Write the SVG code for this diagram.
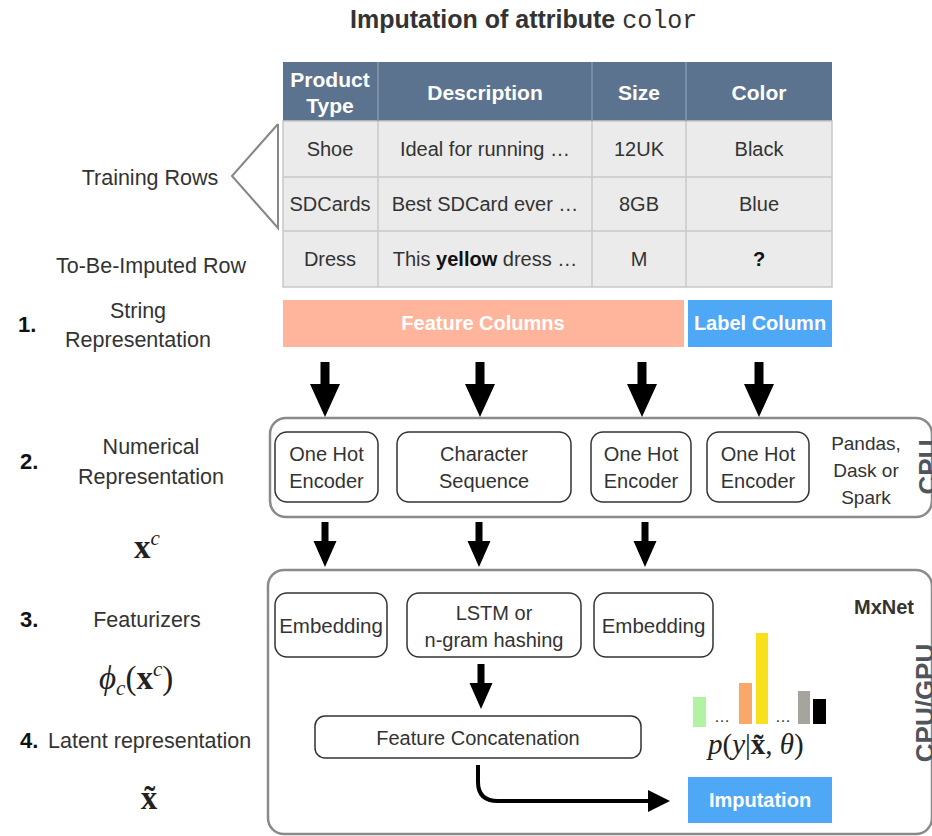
<svg xmlns="http://www.w3.org/2000/svg" width="932" height="836" viewBox="0 0 932 836">
  <style>
    .t { font-family: "Liberation Sans", Arial, sans-serif; fill: #333; }
    .b { font-weight: bold; }
    .lbl { font-size: 21.5px; }
    .cell { font-size: 20px; }
    .hdr { font-family: "Liberation Sans", Arial, sans-serif; font-size: 21px; font-weight: bold; fill: #fff; }
    .wb { font-family: "Liberation Sans", Arial, sans-serif; font-size: 20px; font-weight: bold; fill: #fff; }
    .node { fill: #fff; stroke: #333; stroke-width: 1.5; }
    .frame { fill: none; stroke: #8a8a8a; stroke-width: 2.5; }
    .math { font-family: "Liberation Serif", "DejaVu Serif", serif; fill: #222; }
    .it { font-style: italic; }
    .side { font-family: "Liberation Sans", Arial, sans-serif; font-size: 26px; font-weight: bold; fill: #50555c; }
    .grid { stroke: #c8c8c8; stroke-width: 1.5; }
  </style>
  <defs>
    <path id="bigArrow" d="M-4.5,-55 H4.5 V-33 H15 L0,0 L-15,-33 H-4.5 Z" fill="#000"/>
    <path id="smallArrow" d="M-3.5,-45 H3.5 V-26 H11.5 L0,0 L-11.5,-26 H-3.5 Z" fill="#000"/>
  </defs>
  <rect width="932" height="836" fill="#fff"/>

  <!-- title -->
  <text class="t b" x="350" y="28" font-size="25" fill="#111">Imputation of attribute <tspan font-family="'Liberation Mono', monospace" font-weight="normal">color</tspan></text>

  <!-- data table -->
  <g id="table">
    <rect x="283" y="62" width="549" height="59" fill="#5b738f"/>
    <rect x="283" y="121" width="549" height="166" fill="#ebebeb" stroke="#c8c8c8" stroke-width="1.5"/>
    <g stroke="#8396ab" stroke-width="1.5">
      <line x1="378" y1="62" x2="378" y2="121"/>
      <line x1="592" y1="62" x2="592" y2="121"/>
      <line x1="686" y1="62" x2="686" y2="121"/>
    </g>
    <g class="grid">
      <line x1="378" y1="121" x2="378" y2="287"/>
      <line x1="592" y1="121" x2="592" y2="287"/>
      <line x1="686" y1="121" x2="686" y2="287"/>
      <line x1="283" y1="177" x2="832" y2="177"/>
      <line x1="283" y1="231" x2="832" y2="231"/>
    </g>
    <g class="hdr" text-anchor="middle">
      <text x="330" y="87">Product</text>
      <text x="330" y="113">Type</text>
      <text x="485" y="100">Description</text>
      <text x="639" y="100">Size</text>
      <text x="759" y="100">Color</text>
    </g>
    <g class="t cell" text-anchor="middle">
      <text x="330" y="156">Shoe</text>
      <text x="485" y="156">Ideal for running …</text>
      <text x="639" y="156">12UK</text>
      <text x="759" y="156">Black</text>
      <text x="330" y="211">SDCards</text>
      <text x="485" y="211">Best SDCard ever …</text>
      <text x="639" y="211">8GB</text>
      <text x="759" y="211">Blue</text>
      <text x="330" y="266">Dress</text>
      <text x="485" y="266">This <tspan font-weight="bold" fill="#111">yellow</tspan> dress …</text>
      <text x="639" y="266">M</text>
      <text x="759" y="266" font-weight="bold" fill="#111">?</text>
    </g>
  </g>

  <!-- row brace -->
  <g id="training-brace">
    <polyline points="278,124 232,176 278,228 278,124" fill="none" stroke="#888" stroke-width="2"/>
  </g>

  <!-- left-hand step labels -->
  <g id="labels" class="t lbl">
    <text x="150" y="185" text-anchor="middle">Training Rows</text>
    <text x="151" y="273" text-anchor="middle">To-Be-Imputed Row</text>
    <text x="18" y="332" font-weight="bold" fill="#111" font-size="22">1.</text>
    <text x="138" y="318" text-anchor="middle">String</text>
    <text x="138" y="347" text-anchor="middle">Representation</text>
    <text x="20" y="469" font-weight="bold" fill="#111" font-size="22">2.</text>
    <text x="151" y="454" text-anchor="middle">Numerical</text>
    <text x="151" y="484" text-anchor="middle">Representation</text>
    <text x="20" y="627" font-weight="bold" fill="#111" font-size="22">3.</text>
    <text x="147" y="627" text-anchor="middle">Featurizers</text>
    <text x="20" y="748" font-weight="bold" fill="#111" font-size="22">4.</text>
    <text x="48" y="748">Latent representation</text>
  </g>
  <g id="formulas" class="math" font-size="33">
    <text x="134" y="558"><tspan font-weight="bold">x</tspan><tspan class="it" font-size="21" dy="-13">c</tspan></text>
    <text x="99" y="689"><tspan class="it">ϕ</tspan><tspan class="it" font-size="21" dy="6">c</tspan><tspan dy="-6">(</tspan><tspan font-weight="bold">x</tspan><tspan class="it" font-size="21" dy="-13">c</tspan><tspan dy="13">)</tspan></text>
    <text x="149" y="809" text-anchor="middle" font-weight="bold">x̃</text>
  </g>

  <!-- string representation -->
  <g id="feature-columns">
    <rect x="283" y="300" width="401" height="47" fill="#ffb59c"/>
    <text class="wb" x="483" y="330" text-anchor="middle">Feature Columns</text>
  </g>
  <g id="label-column">
    <rect x="688" y="300" width="144" height="47" fill="#4ea8f6"/>
    <text class="wb" x="760" y="330" text-anchor="middle">Label Column</text>
  </g>

  <!-- numerical representation stage -->
  <g id="cpu-stage">
    <rect class="frame" x="270" y="418" width="662" height="99" rx="16"/>
    <text class="t" font-size="19" text-anchor="middle"><tspan x="866" y="450">Pandas,</tspan><tspan x="866" y="477">Dask or</tspan><tspan x="866" y="504">Spark</tspan></text>
    <text class="side" transform="translate(937,467) rotate(-90)" text-anchor="middle">CPU</text>
  </g>
  <g id="onehot-1">
    <rect class="node" x="275" y="432" width="103" height="70" rx="12"/>
    <text class="t cell" text-anchor="middle"><tspan x="326.5" y="461">One Hot</tspan><tspan x="326.5" y="488">Encoder</tspan></text>
  </g>
  <g id="char-sequence">
    <rect class="node" x="397" y="432" width="174" height="70" rx="12"/>
    <text class="t cell" text-anchor="middle"><tspan x="484" y="461">Character</tspan><tspan x="484" y="488">Sequence</tspan></text>
  </g>
  <g id="onehot-2">
    <rect class="node" x="591" y="432" width="100" height="70" rx="12"/>
    <text class="t cell" text-anchor="middle"><tspan x="641" y="461">One Hot</tspan><tspan x="641" y="488">Encoder</tspan></text>
  </g>
  <g id="onehot-3">
    <rect class="node" x="707" y="432" width="102" height="70" rx="12"/>
    <text class="t cell" text-anchor="middle"><tspan x="758" y="461">One Hot</tspan><tspan x="758" y="488">Encoder</tspan></text>
  </g>

  <!-- featurizer / model stage -->
  <g id="gpu-stage">
    <rect class="frame" x="268" y="570" width="664" height="264" rx="16"/>
    <text class="t b" x="884" y="614" text-anchor="middle" font-size="20" fill="#111">MxNet</text>
    <text class="side" transform="translate(934,703) rotate(-90)" text-anchor="middle">CPU/GPU</text>
  </g>
  <g id="embedding-1">
    <rect class="node" x="275" y="593" width="112" height="64" rx="12"/>
    <text class="t" font-size="20.5" x="331" y="633" text-anchor="middle">Embedding</text>
  </g>
  <g id="lstm">
    <rect class="node" x="407" y="593" width="174" height="64" rx="12"/>
    <text class="t cell" text-anchor="middle"><tspan x="494" y="620">LSTM or</tspan><tspan x="494" y="647">n-gram hashing</tspan></text>
  </g>
  <g id="embedding-2">
    <rect class="node" x="594" y="593" width="119" height="64" rx="12"/>
    <text class="t" font-size="20.5" x="653.5" y="633" text-anchor="middle">Embedding</text>
  </g>
  <g id="concat">
    <rect class="node" x="315" y="716" width="326" height="42" rx="10"/>
    <text class="t cell" x="478" y="745" text-anchor="middle">Feature Concatenation</text>
  </g>
  <g id="distribution">
    <rect x="693" y="697" width="13" height="30" fill="#b2f2a2"/>
    <rect x="739" y="683" width="13" height="41" fill="#f9a86a"/>
    <rect x="756" y="633" width="12" height="91" fill="#f8e11c"/>
    <rect x="798" y="691" width="12" height="33" fill="#a5a59d"/>
    <rect x="813" y="699" width="13" height="25" fill="#000"/>
    <text class="t" x="722" y="722" font-size="16" text-anchor="middle">…</text>
    <text class="t" x="783" y="722" font-size="16" text-anchor="middle">…</text>
    <text class="math" x="708" y="754" font-size="29"><tspan class="it">p</tspan>(<tspan class="it">y</tspan>|<tspan font-weight="bold">x̃</tspan>, <tspan class="it">θ</tspan>)</text>
  </g>
  <g id="imputation">
    <rect x="688" y="777" width="144" height="46" fill="#4ea8f6"/>
    <text class="wb" x="760" y="807" text-anchor="middle">Imputation</text>
  </g>

  <!-- connectors -->
  <g id="connectors">
    <use href="#bigArrow" x="325" y="417"/>
    <use href="#bigArrow" x="480" y="417"/>
    <use href="#bigArrow" x="642" y="417"/>
    <use href="#bigArrow" x="759" y="417"/>
    <use href="#smallArrow" x="325" y="567"/>
    <use href="#smallArrow" x="479" y="567"/>
    <use href="#smallArrow" x="645" y="567"/>
    <use href="#smallArrow" x="481" y="709"/>
    <path d="M478,765 V782 Q478,801 498,801 H652" fill="none" stroke="#000" stroke-width="4"/>
    <polygon points="648,790 670,801 648,812" fill="#000"/>
  </g>
</svg>
